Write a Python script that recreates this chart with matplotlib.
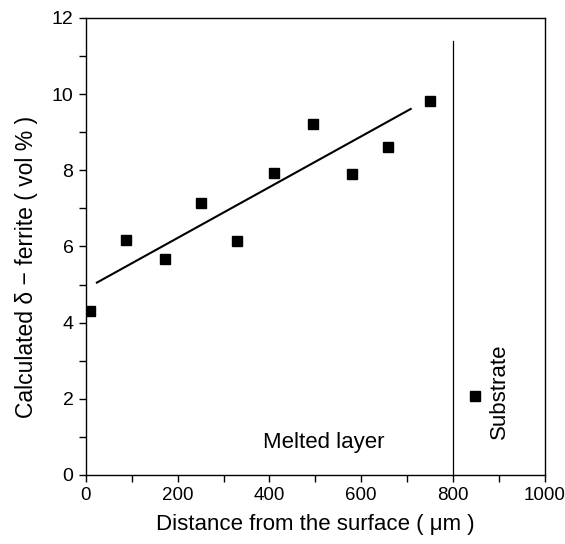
import matplotlib
matplotlib.use("Agg")
import matplotlib.pyplot as plt
from matplotlib.ticker import MultipleLocator

plt.rcParams['font.family'] = ['Liberation Sans', 'DejaVu Sans']

# measured points in the melted layer
distance = [8, 88, 173, 251, 329, 410, 496, 580, 659, 749]
ferrite = [4.31, 6.17, 5.66, 7.14, 6.15, 7.93, 9.22, 7.91, 8.61, 9.82]

# substrate point
sub_distance = [849]
sub_ferrite = [2.08]

# fitted trend line (end points)
fit_x = [24, 708]
fit_y = [5.05, 9.61]

# boundary between melted layer and substrate
boundary_x = 800
boundary_top = 11.4

fig = plt.figure(figsize=(5.65, 5.44), dpi=100)
ax = fig.add_axes([0.152, 0.127, 0.812, 0.84])

ax.plot(distance, ferrite, 's', color='black', markersize=7.5)
ax.plot(sub_distance, sub_ferrite, 's', color='black', markersize=7.5)
ax.plot(fit_x, fit_y, '-', color='black', linewidth=1.5)
ax.plot([boundary_x, boundary_x], [0, boundary_top], '-', color='black', linewidth=0.9)

ax.text(518, 0.86, 'Melted layer', fontsize=16, ha='center', va='center')
ax.text(902, 2.2, 'Substrate', fontsize=16, ha='center', va='center', rotation=90)

ax.set_xlim(0, 1000)
ax.set_ylim(0, 12)
ax.xaxis.set_major_locator(MultipleLocator(200))
ax.xaxis.set_minor_locator(MultipleLocator(100))
ax.yaxis.set_major_locator(MultipleLocator(2))
ax.yaxis.set_minor_locator(MultipleLocator(1))
ax.tick_params(which='both', direction='out', length=5, width=1, labelsize=14, pad=4)
ax.tick_params(axis='x', labelsize=13.5)

for side in ['left', 'bottom', 'right', 'top']:
    ax.spines[side].set_linewidth(1.0)

ax.set_xlabel('Distance from the surface ( \u03bcm )', fontsize=16, labelpad=7)
ax.set_ylabel('Calculated \u03b4 \u2212 ferrite ( vol % )', fontsize=16.5)
ax.yaxis.set_label_coords(-0.105, 0.455)

fig.savefig('out.png', dpi=100)
